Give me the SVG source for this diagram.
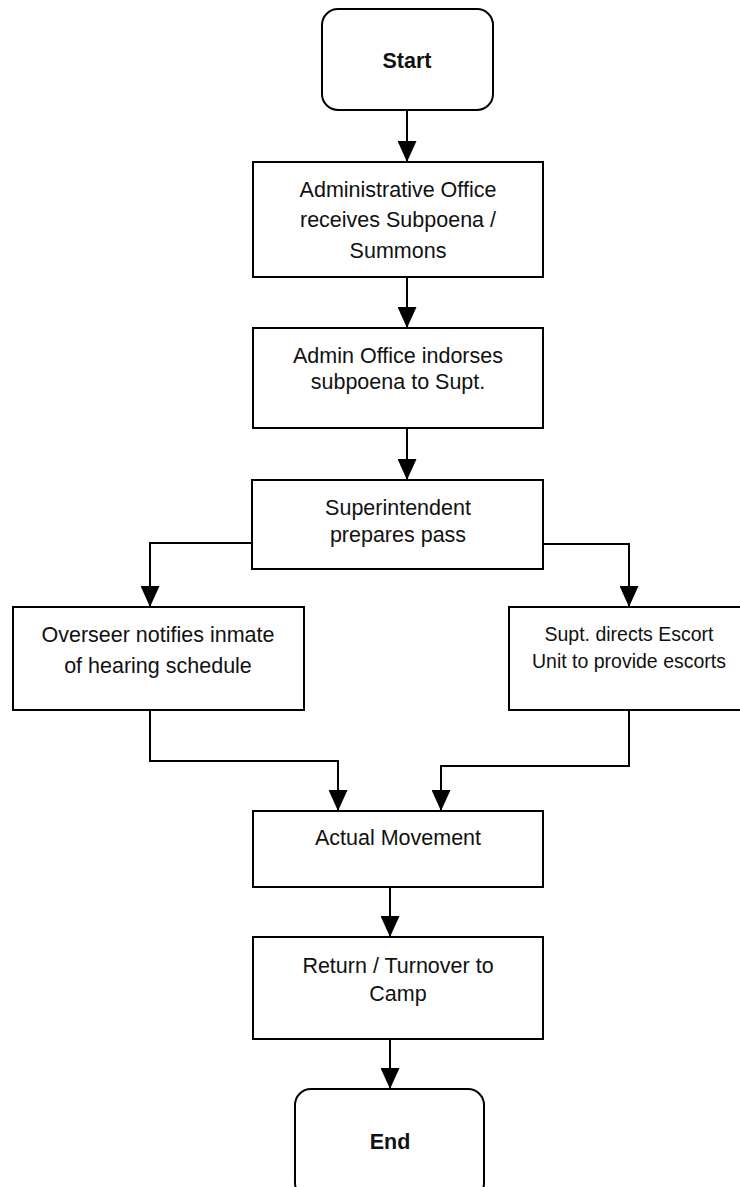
<svg xmlns="http://www.w3.org/2000/svg" width="740" height="1187" viewBox="0 0 740 1187">
<style>
.box{fill:#fff;stroke:#000;stroke-width:2}
.t{font-family:"Liberation Sans",Arial,sans-serif;font-size:21.5px;fill:#111;text-anchor:middle}
.s{font-size:19.5px}
.b{font-weight:bold}
.c{fill:none;stroke:#000;stroke-width:2}
</style>
<defs>
<marker id="ah" markerUnits="userSpaceOnUse" markerWidth="21" markerHeight="19" refX="21" refY="9.5" orient="auto">
<path d="M0,0 L21,9.5 L0,19 z" fill="#000"/>
</marker>
</defs>
<rect width="740" height="1187" fill="#fff"/>
<g id="connectors">
<path class="c" d="M407,110 V162" marker-end="url(#ah)"/>
<path class="c" d="M407,277 V328" marker-end="url(#ah)"/>
<path class="c" d="M407,428 V480" marker-end="url(#ah)"/>
<path class="c" d="M252,543 H150 V607" marker-end="url(#ah)"/>
<path class="c" d="M543,544 H629 V607" marker-end="url(#ah)"/>
<path class="c" d="M150,710 V761 H338 V811" marker-end="url(#ah)"/>
<path class="c" d="M629,710 V766 H441 V811" marker-end="url(#ah)"/>
<path class="c" d="M390,887 V937" marker-end="url(#ah)"/>
<path class="c" d="M390,1039 V1089" marker-end="url(#ah)"/>
</g>
<g id="start">
<rect class="box" x="322" y="9" width="171" height="101" rx="16"/>
<text class="t b" x="407" y="68">Start</text>
</g>
<g id="n1">
<rect class="box" x="253" y="162" width="290" height="115"/>
<text class="t" x="398" y="197">Administrative Office</text>
<text class="t" x="398" y="227">receives Subpoena /</text>
<text class="t" x="398" y="258">Summons</text>
</g>
<g id="n2">
<rect class="box" x="253" y="328" width="290" height="100"/>
<text class="t" x="398" y="363">Admin Office indorses</text>
<text class="t" x="398" y="389">subpoena to Supt.</text>
</g>
<g id="n3">
<rect class="box" x="252" y="480" width="291" height="89"/>
<text class="t" x="398" y="515">Superintendent</text>
<text class="t" x="398" y="542">prepares pass</text>
</g>
<g id="n4">
<rect class="box" x="13" y="607" width="291" height="103"/>
<text class="t" x="158" y="642">Overseer notifies inmate</text>
<text class="t" x="158" y="673">of hearing schedule</text>
</g>
<g id="n5">
<rect class="box" x="509" y="607" width="241" height="103"/>
<text class="t s" x="629" y="641">Supt. directs Escort</text>
<text class="t s" x="629" y="668">Unit to provide escorts</text>
</g>
<g id="n6">
<rect class="box" x="253" y="811" width="290" height="76"/>
<text class="t" x="398" y="845">Actual Movement</text>
</g>
<g id="n7">
<rect class="box" x="253" y="937" width="290" height="102"/>
<text class="t" x="398" y="973">Return / Turnover to</text>
<text class="t" x="398" y="1001">Camp</text>
</g>
<g id="end">
<rect class="box" x="295" y="1089" width="189" height="110" rx="16"/>
<text class="t b" x="390" y="1149">End</text>
</g>
</svg>
